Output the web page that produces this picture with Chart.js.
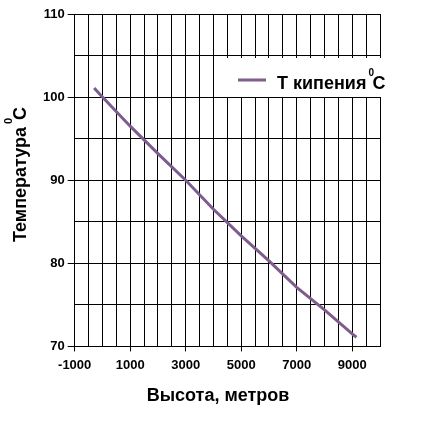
<!DOCTYPE html>
<html>
<head>
<meta charset="utf-8">
<script src="https://cdn.jsdelivr.net/npm/chart.js@4"></script>
<style>
  html, body { margin: 0; padding: 0; background: #fff; }
  #wrap { width: 428px; height: 430px; }
</style>
</head>
<body>
<div id="wrap"><canvas id="chart"></canvas></div>
<script>
// высота, м и температура кипения воды, °C
const heights = [-300, 0, 1000, 2000, 3000, 4000, 5000, 6000, 7000, 8000, 9000, 9150];
const boilT = [101.1, 100.0, 96.5, 93.2, 90.0, 86.5, 83.3, 80.3, 77.1, 74.4, 71.5, 71.1];
const seriesName = "Т кипения";
const xTitle = "Высота, метров";
const yTitle = "Температура";

const FONT = "'Liberation Sans', Arial, sans-serif";
const lineColor = "#7e5c8c";

const points = heights.map((h, i) => ({ x: h, y: boilT[i] }));

// легенда внутри поля и подписи осей (с верхним индексом)
const extras = {
  id: "extras",
  afterDatasetsDraw(chart) {
    const ctx = chart.ctx;
    ctx.save();
    // легенда
    ctx.fillStyle = "#fff";
    ctx.fillRect(227, 58, 170, 39);
    ctx.strokeStyle = lineColor;
    ctx.lineWidth = 3;
    ctx.beginPath();
    ctx.moveTo(238, 80);
    ctx.lineTo(266, 80);
    ctx.stroke();
    ctx.fillStyle = "#000";
    ctx.textBaseline = "alphabetic";
    ctx.textAlign = "left";
    ctx.font = "bold 18px " + FONT;
    ctx.fillText(seriesName, 277, 89);
    let w = ctx.measureText(seriesName).width;
    ctx.font = "bold 10px " + FONT;
    ctx.fillText("0", 277 + w + 2, 76);
    ctx.font = "bold 18px " + FONT;
    ctx.fillText("C", 277 + w + 6, 89);

    // подпись оси X
    ctx.textAlign = "center";
    ctx.font = "bold 18px " + FONT;
    ctx.fillText(xTitle, 218, 401);

    // подпись оси Y
    ctx.textAlign = "left";
    ctx.translate(26, 242);
    ctx.rotate(-Math.PI / 2);
    ctx.font = "bold 18px " + FONT;
    ctx.fillText(yTitle, 0, 0);
    w = ctx.measureText(yTitle).width;
    ctx.font = "bold 11px " + FONT;
    ctx.fillText("0", w + 3, -14);
    ctx.font = "bold 18px " + FONT;
    ctx.fillText("C", w + 7, 0);
    ctx.restore();
  }
};

new Chart(document.getElementById("chart"), {
  type: "line",
  data: {
    datasets: [{
      label: seriesName,
      data: points,
      borderColor: lineColor,
      borderWidth: 3,
      pointRadius: 0,
      fill: false,
      tension: 0
    }]
  },
  options: {
    responsive: true,
    maintainAspectRatio: false,
    animation: false,
    layout: { padding: { left: 40, right: 48, top: 14, bottom: 51 } },
    plugins: {
      legend: { display: false },
      tooltip: { enabled: false }
    },
    scales: {
      x: {
        type: "linear",
        min: -1000,
        max: 10000,
        grid: {
          color: "#000",
          lineWidth: 1,
          tickLength: 5,
          tickColor: c => ((c.tick.value + 1000) % 2000 === 0 && c.tick.value < 10000) ? "#000" : "rgba(0,0,0,0)"
        },
        border: { color: "#000", width: 1 },
        ticks: {
          stepSize: 500,
          autoSkip: false,
          maxRotation: 0,
          padding: 6,
          color: "#000",
          font: { family: FONT, size: 13, weight: "bold" },
          callback: v => ((v + 1000) % 2000 === 0 && v < 10000) ? String(v) : ""
        }
      },
      y: {
        min: 70,
        max: 110,
        grid: {
          color: "#000",
          lineWidth: 1,
          tickLength: 7,
          tickColor: c => (c.tick.value % 10 === 0) ? "#000" : "rgba(0,0,0,0)"
        },
        border: { color: "#000", width: 1 },
        ticks: {
          stepSize: 5,
          autoSkip: false,
          padding: 3,
          color: "#000",
          font: { family: FONT, size: 13, weight: "bold" },
          callback: v => (v % 10 === 0) ? String(v) : ""
        }
      }
    }
  },
  plugins: [extras]
});
</script>
</body>
</html>
